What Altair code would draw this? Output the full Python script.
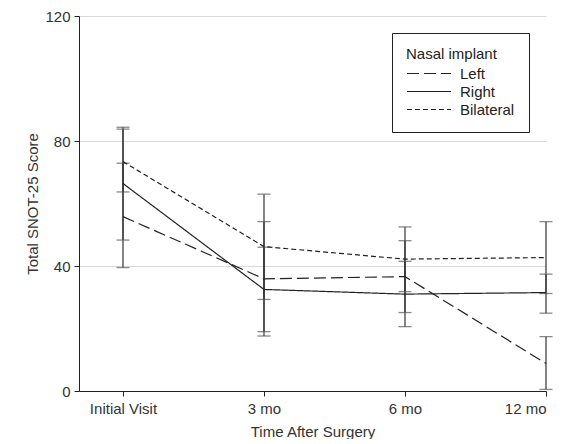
import altair as alt
import pandas as pd

times = ["Initial Visit", "3 mo", "6 mo", "12 mo"]
groups = ["Left", "Right", "Bilateral"]
left_mean = [55.8, 35.9, 36.6, 8.8]
left_lo = [39.5, 17.6, 25.1, 0.5]
left_hi = [72.9, 54.2, 48.1, 17.4]
right_mean = [66.4, 32.5, 31.0, 31.5]
right_lo = [48.3, 19.0, 20.6, 24.9]
right_hi = [84.4, 46.0, 41.5, 37.4]
bil_mean = [73.4, 46.2, 42.2, 42.7]
bil_lo = [63.7, 29.3, 31.8, 31.2]
bil_hi = [83.8, 63.0, 52.5, 54.2]

rows = []
for g, m, lo, hi in [("Left", left_mean, left_lo, left_hi),
                     ("Right", right_mean, right_lo, right_hi),
                     ("Bilateral", bil_mean, bil_lo, bil_hi)]:
    for i, t in enumerate(times):
        rows.append({"group": g, "t": i, "time": t, "mean": m[i], "lo": lo[i], "hi": hi[i]})
df = pd.DataFrame(rows)

FONT = "Liberation Sans"
FS = 15
label_expr = "datum.value == 0 ? 'Initial Visit' : datum.value == 1 ? '3 mo' : datum.value == 2 ? '6 mo' : '12 mo'"

x = alt.X("t:Q", scale=alt.Scale(domain=[-0.312, 3], nice=False, zero=False),
          axis=alt.Axis(values=[0, 1, 2, 3], labelExpr=label_expr, grid=False,
                        title="Time After Surgery", tickSize=5, labelPadding=5,
                        titlePadding=8))
y_axis = alt.Axis(values=[0, 40, 80, 120], title="Total SNOT-25 Score", grid=True,
                  gridColor="#d9d9d9", tickSize=5, labelPadding=4, titlePadding=4)
y = alt.Y("mean:Q", scale=alt.Scale(domain=[0, 120], nice=False), axis=y_axis)

base = alt.Chart(df)

lines = base.mark_line(color="#222", strokeWidth=1.2).encode(
    x=x, y=y,
    strokeDash=alt.StrokeDash(
        "group:N",
        scale=alt.Scale(domain=groups, range=[[12, 5], [1, 0], [5, 3]]),
        legend=alt.Legend(
            title="Nasal implant", orient="none", legendX=313, legendY=17,
            strokeColor="#222", padding=14, titleFontWeight="normal",
            titleFontSize=FS, labelFontSize=FS, titleFont=FONT, labelFont=FONT,
            titleColor="#222", labelColor="#222",
            symbolType="M-1,0H4.87", symbolSize=225, symbolStrokeWidth=1.2,
            symbolStrokeColor="#222", labelOffset=37, rowPadding=1,
            titlePadding=3, fillColor="white",
        ),
    ),
)

rules = base.mark_rule(color="#333", strokeWidth=1.2).encode(
    x="t:Q", y="lo:Q", y2="hi:Q")
caps_lo = base.mark_tick(color="#555", orient="horizontal", size=13, thickness=1.3).encode(
    x="t:Q", y="lo:Q")
caps_hi = base.mark_tick(color="#555", orient="horizontal", size=13, thickness=1.3).encode(
    x="t:Q", y="hi:Q")

chart = alt.layer(rules, caps_lo, caps_hi, lines).properties(
    width=467, height=375,
    autosize=alt.AutoSizeParams(type="none"),
    padding={"left": 71, "top": 8, "right": 21, "bottom": 48},
).configure_view(stroke=None).configure_axis(
    domainColor="#222", tickColor="#222", labelColor="#333", titleColor="#333",
    labelFont=FONT, titleFont=FONT, labelFontSize=FS, titleFontSize=FS,
    titleFontWeight="normal",
)

chart.save("out.html", embed_options={"renderer": "svg", "actions": False})
